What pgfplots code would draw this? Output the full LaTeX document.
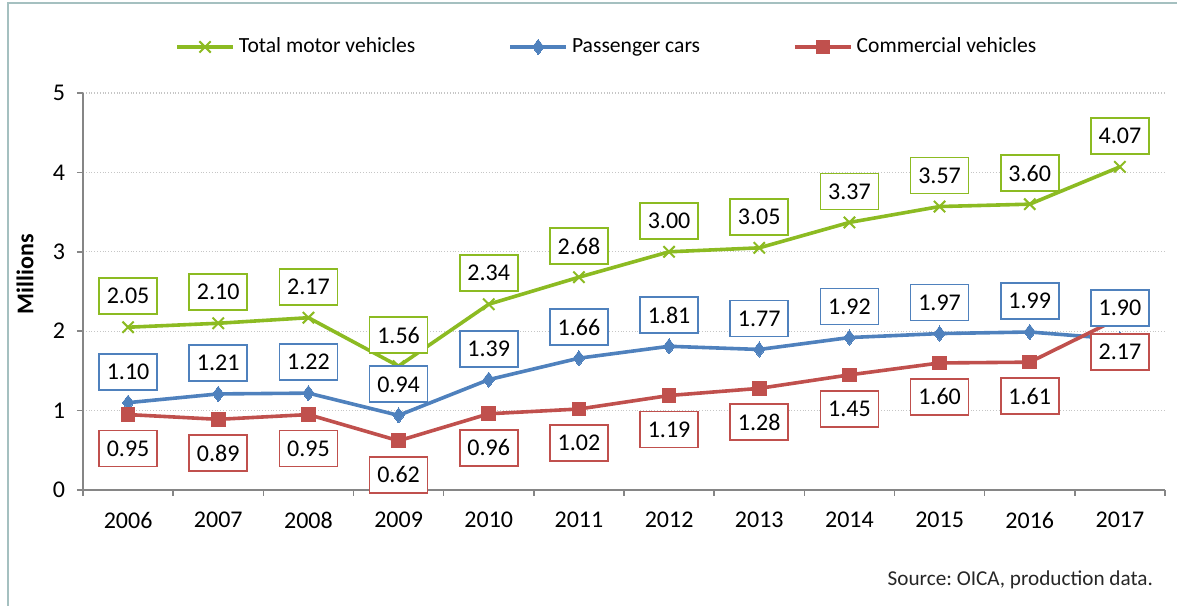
\documentclass[border=0pt]{standalone}
\usepackage{fontspec}
\setmainfont{Carlito}
\usepackage{pgfplots}
\usepackage{pgfplotstable}
\pgfplotsset{compat=1.18}
\frenchspacing

\definecolor{totgreen}{RGB}{140,187,34}
\definecolor{pcblue}{RGB}{79,129,189}
\definecolor{cvred}{RGB}{192,80,77}
\definecolor{framecol}{RGB}{165,192,192}
\definecolor{axgray}{RGB}{134,134,134}

\pgfplotstableread{
x tot pc cv
0 2.05 1.10 0.95
1 2.10 1.21 0.89
2 2.17 1.22 0.95
3 1.56 0.94 0.62
4 2.34 1.39 0.96
5 2.68 1.66 1.02
6 3.00 1.81 1.19
7 3.05 1.77 1.28
8 3.37 1.92 1.45
9 3.57 1.97 1.60
10 3.60 1.99 1.61
11 4.07 1.90 2.17
}\prod

\pgfplotsset{
  valbox/.style 2 args={
    only marks, mark=none, forget plot,
    nodes near coords={\pgfmathprintnumber[fixed,fixed zerofill,precision=2]{\pgfplotspointmeta}},
    every node near coord/.append style={draw=#1, fill=white, line width=0.9pt,
      font=\fontsize{12}{14}\selectfont, text=black, minimum width=29pt,
      minimum height=18pt, inner sep=1pt, anchor=center, yshift=#2},
  },
}

\begin{document}
\begin{tikzpicture}
\useasboundingbox (0,0) rectangle (588.5pt,302.5pt);
\draw[framecol, line width=1.3pt] (4pt,-5pt) -- (4pt,301pt) -- (595pt,301pt);
\begin{axis}[
  at={(41.5pt,57.5pt)}, anchor=south west,
  scale only axis, width=541pt, height=198.5pt,
  xmin=-0.5, xmax=11.5, ymin=0, ymax=5,
  axis lines*=left,
  axis line style={axgray, line width=0.8pt},
  xtick={0,...,11},
  xticklabels={2006,2007,2008,2009,2010,2011,2012,2013,2014,2015,2016,2017},
  minor xtick={-0.5,0.5,...,11.5},
  ytick={0,1,...,5},
  major x tick style={draw=none},
  minor x tick style={axgray, line width=0.8pt},
  y tick style={axgray, line width=0.8pt},
  tick align=outside,
  major tick length=3pt, minor tick length=3pt,
  ymajorgrids,
  major grid style={densely dotted, gray!45, line width=0.6pt},
  /pgf/number format/assume math mode=true,
  tick label style={font=\fontsize{12}{14}\selectfont, text=black},
  xticklabel style={yshift=-4.5pt},
  yticklabel style={xshift=-2.5pt},
  ylabel={Millions},
  ylabel style={font=\bfseries\fontsize{12}{14}\selectfont, at={(axis description cs:-0.0536,0.543)}, anchor=center},
  legend columns=3,
  legend style={draw=none, fill=none, at={(0.485,1.116)}, anchor=center,
    font=\fontsize{10.8}{13}\selectfont, column sep=0pt,
    /tikz/every even column/.append style={column sep=44.5pt}},
  legend cell align=left,
  legend image code/.code={\draw[mark repeat=2, mark phase=2, #1] plot coordinates {(0pt,0pt) (14pt,0pt) (28pt,0pt)};},
  clip=false,
]
\addplot[totgreen, line width=1.8pt, mark=x, mark size=4pt, mark options={line width=1pt}] table[x=x, y=tot] {\prod};
\addlegendentry{Total motor vehicles}
\addplot[pcblue, line width=1.8pt, mark=diamond*, mark size=3.8pt, mark options={line width=0pt}] table[x=x, y=pc] {\prod};
\addlegendentry{Passenger cars}
\addplot[cvred, line width=1.8pt, mark=square*, mark size=3.4pt, mark options={line width=0pt}] table[x=x, y=cv] {\prod};
\addlegendentry{Commercial vehicles}
\addplot[valbox={totgreen}{15.5pt}] table[x=x, y=tot] {\prod};
\addplot[valbox={pcblue}{15.5pt}] table[x=x, y=pc] {\prod};
\addplot[valbox={cvred}{-17pt}] table[x=x, y=cv] {\prod};
\end{axis}
\node[anchor=east, font=\fontsize{10.6}{13}\selectfont, text=black!85] at (580pt,12.5pt) {Source: OICA, production data.};
\end{tikzpicture}
\end{document}
